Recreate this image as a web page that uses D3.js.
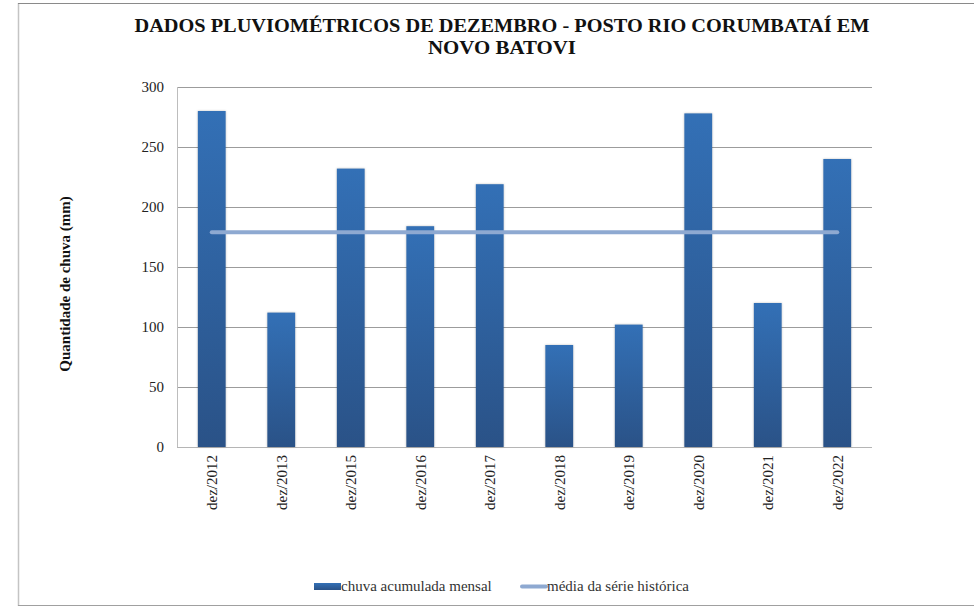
<!DOCTYPE html>
<html><head><meta charset="utf-8">
<script src="https://cdn.jsdelivr.net/npm/d3@7"></script>
<style>body{margin:0;background:#fff}svg{display:block}</style>
</head><body>
<svg id="c" width="974" height="607"></svg>
<script>
const categories = ["dez/2012","dez/2013","dez/2015","dez/2016","dez/2017","dez/2018","dez/2019","dez/2020","dez/2021","dez/2022"];
const rainfall = [280,112,232,184,219,85,102,278,120,240];
const mediaSerie = 179;
const yTicks = [0,50,100,150,200,250,300];
const titleLines = ["DADOS PLUVIOMÉTRICOS  DE DEZEMBRO - POSTO RIO CORUMBATAÍ EM","NOVO BATOVI"];
const yLabel = "Quantidade  de chuva (mm)";
const legendLabels = ["chuva acumulada mensal","média da série histórica"];

const SERIF = '"Liberation Serif","Times New Roman",serif';
const svg = d3.select("#c");
const L = 177, R = 872, T = 87, B = 447;
const x = d3.scaleBand().domain(categories).range([L,R]).paddingInner(0.6).paddingOuter(0.3);
const y = d3.scaleLinear().domain([0,300]).range([B,T]);

// frame
svg.append("line").attr("x1",18.5).attr("x2",18.5).attr("y1",3).attr("y2",606).attr("stroke","#c4c4c4").attr("stroke-width",1.5);
svg.append("line").attr("x1",18).attr("x2",974).attr("y1",3.5).attr("y2",3.5).attr("stroke","#8a8a8a");
svg.append("line").attr("x1",18).attr("x2",974).attr("y1",605.5).attr("y2",605.5).attr("stroke","#a0a0a0");

const defs = svg.append("defs");
const g = defs.append("linearGradient").attr("id","bg").attr("x1",0).attr("y1",0).attr("x2",0).attr("y2",1);
g.append("stop").attr("offset","0%").attr("stop-color","#3370b6");
g.append("stop").attr("offset","100%").attr("stop-color","#2a5287");
const gl = defs.append("linearGradient").attr("id","lg").attr("x1",0).attr("y1",0).attr("x2",0).attr("y2",1);
gl.append("stop").attr("offset","0%").attr("stop-color","#3370b6");
gl.append("stop").attr("offset","100%").attr("stop-color","#2a5287");

// gridlines
svg.append("g").attr("transform",`translate(${L},0)`)
  .call(d3.axisLeft(y).tickValues(yTicks).tickSize(-(R-L)).tickFormat(""))
  .call(s=>s.select(".domain").remove())
  .call(s=>s.selectAll("line").attr("stroke",d=>d===0?"#b5b5b5":"#9c9c9c").attr("stroke-width",1));

// y axis line
svg.append("line").attr("x1",L+0.5).attr("x2",L+0.5).attr("y1",T).attr("y2",B).attr("stroke","#bdbdbd");

// tick labels
svg.append("g").attr("transform",`translate(${L},0)`)
  .call(d3.axisLeft(y).tickValues(yTicks).tickSize(0).tickPadding(13).tickFormat(d3.format("d")))
  .call(s=>s.select(".domain").remove())
  .call(s=>s.selectAll("text").attr("font-size",15).style("font-family",SERIF).attr("fill","#222"));

// bars
svg.append("g").selectAll("rect").data(rainfall).join("rect")
  .attr("x",(d,i)=>x(categories[i])).attr("width",x.bandwidth())
  .attr("y",d=>y(d)).attr("height",d=>B-y(d))
  .attr("fill","url(#bg)")
  .style("filter","drop-shadow(0px 0px 1px rgba(0,0,0,0.25))");

// mean line
const lineData = categories.map(c=>[x(c)+x.bandwidth()/2, y(mediaSerie)]);
svg.append("path").attr("d",d3.line()(lineData)).attr("stroke","#8ea9d1").attr("stroke-width",4)
  .attr("stroke-linecap","round").attr("fill","none");

// x labels
svg.append("g").attr("transform",`translate(0,${B})`)
  .call(d3.axisBottom(x).tickSize(0).tickPadding(0))
  .call(s=>s.select(".domain").remove())
  .call(s=>s.selectAll("text").attr("font-size",15).style("font-family",SERIF).attr("fill","#222")
    .attr("transform","rotate(-90)").attr("text-anchor","end").attr("x",-8).attr("y",0).attr("dy","0.35em"));

// title
const titleWidths = [735,148];
svg.append("g").selectAll("text").data(titleLines).join("text")
  .attr("x",502).attr("y",(d,i)=>32+i*22).attr("text-anchor","middle")
  .attr("font-size",19).attr("font-weight","bold").style("font-family",SERIF).attr("fill","#111")
  .attr("textLength",(d,i)=>titleWidths[i]).attr("lengthAdjust","spacingAndGlyphs").text(d=>d);

// y label
svg.append("text").attr("transform","translate(70,284) rotate(-90)").attr("text-anchor","middle")
  .attr("font-size",15).attr("font-weight","bold").style("font-family",SERIF).attr("fill","#111").text(yLabel);

// legend
svg.append("rect").attr("x",314).attr("y",583).attr("width",27).attr("height",7).attr("fill","url(#lg)");
svg.append("text").attr("x",341).attr("y",591).attr("font-size",15).style("font-family",SERIF).attr("fill","#333").text(legendLabels[0]);
svg.append("line").attr("x1",522).attr("x2",546).attr("y1",586.5).attr("y2",586.5).attr("stroke","#8ea9d1").attr("stroke-width",4).attr("stroke-linecap","round");
svg.append("text").attr("x",547).attr("y",591).attr("font-size",15).style("font-family",SERIF).attr("fill","#333").text(legendLabels[1]);
</script>
</body></html>
